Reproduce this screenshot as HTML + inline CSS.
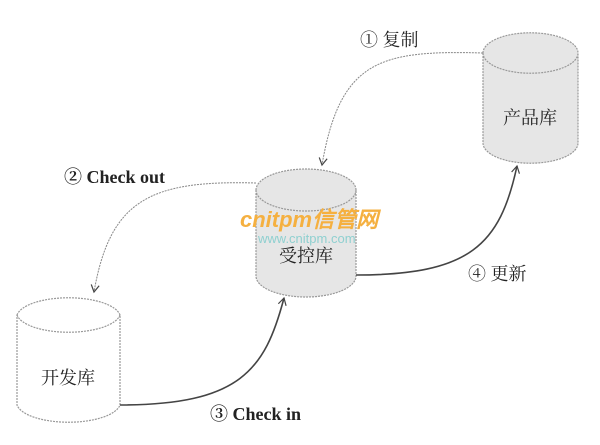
<!DOCTYPE html>
<html><head><meta charset="utf-8"><style>
html,body{margin:0;padding:0;background:#fff;}
svg{display:block;}
.t{font-family:"Liberation Serif","Noto Serif CJK SC",serif;fill:#222;}
</style></head><body>
<svg width="600" height="445" viewBox="0 0 600 445" xmlns="http://www.w3.org/2000/svg">
<defs>
<marker id="a" markerWidth="10" markerHeight="10" refX="8" refY="5" orient="auto" markerUnits="userSpaceOnUse">
<path d="M1,1 L8,5 L1,9" fill="none" stroke="#444" stroke-width="1.2"/>
</marker>
</defs>
<!-- product cylinder -->
<g>
<path d="M483,53 A47,20 0 0 1 578,53 L578,143 A47,20 0 0 1 483,143 Z" fill="#e6e6e6"/>
<path d="M483,53 A47,20 0 0 0 578,53 M483,53 A47,20 0 0 1 578,53 L578,143 A47,20 0 0 1 483,143 Z" fill="none" stroke="#999" stroke-width="1.2" stroke-dasharray="2 1"/>
<text x="530" y="124" class="t" font-size="18" text-anchor="middle">产品库</text>
</g>
<!-- controlled cylinder -->
<g>
<path d="M256,190 A50,21 0 0 1 356,190 L356,276 A50,21 0 0 1 256,276 Z" fill="#e6e6e6"/>
<path d="M256,190 A50,21 0 0 0 356,190 M256,190 A50,21 0 0 1 356,190 L356,276 A50,21 0 0 1 256,276 Z" fill="none" stroke="#999" stroke-width="1.2" stroke-dasharray="2 1"/>
<text x="240" y="227" font-family="Liberation Sans,sans-serif" font-weight="bold" font-style="italic" font-size="22" fill="#f5b040">cnitpm信管网</text>
<text x="258" y="243" font-family="Liberation Sans,sans-serif" font-size="13" fill="#8fd0d0">www.cnitpm.com</text>
<text x="306" y="262" class="t" font-size="18" text-anchor="middle">受控库</text>
</g>
<!-- dev cylinder -->
<g>
<path d="M17,315 A52,20 0 0 1 120,315 L120,405 A52,20 0 0 1 17,405 Z" fill="#fff" stroke="#999" stroke-width="1.2" stroke-dasharray="2 1"/>
<path d="M17,315 A52,20 0 0 0 120,315" fill="none" stroke="#999" stroke-width="1.2" stroke-dasharray="2 1"/>
<text x="68" y="384" class="t" font-size="18" text-anchor="middle">开发库</text>
</g>
<!-- arrows -->
<path d="M483,53 C380,50 340,60 322,165" fill="none" stroke="#888" stroke-width="1" stroke-dasharray="2 1" marker-end="url(#a)"/>
<path d="M256,183 C150,180 110,200 94,292" fill="none" stroke="#888" stroke-width="1" stroke-dasharray="2 1" marker-end="url(#a)"/>
<path d="M120,405 C240,405 265,370 284,298" fill="none" stroke="#444" stroke-width="1.6" marker-end="url(#a)"/>
<path d="M356,275 C470,275 500,245 517,166" fill="none" stroke="#444" stroke-width="1.6" marker-end="url(#a)"/>
<!-- labels -->
<text x="360" y="46" class="t" font-size="18">① 复制</text>
<text x="64" y="183" class="t" font-size="18" font-weight="bold">② Check out</text>
<text x="210" y="420" class="t" font-size="18" font-weight="bold">③ Check in</text>
<text x="468" y="280" class="t" font-size="18">④ 更新</text>
</svg>
</body></html>
